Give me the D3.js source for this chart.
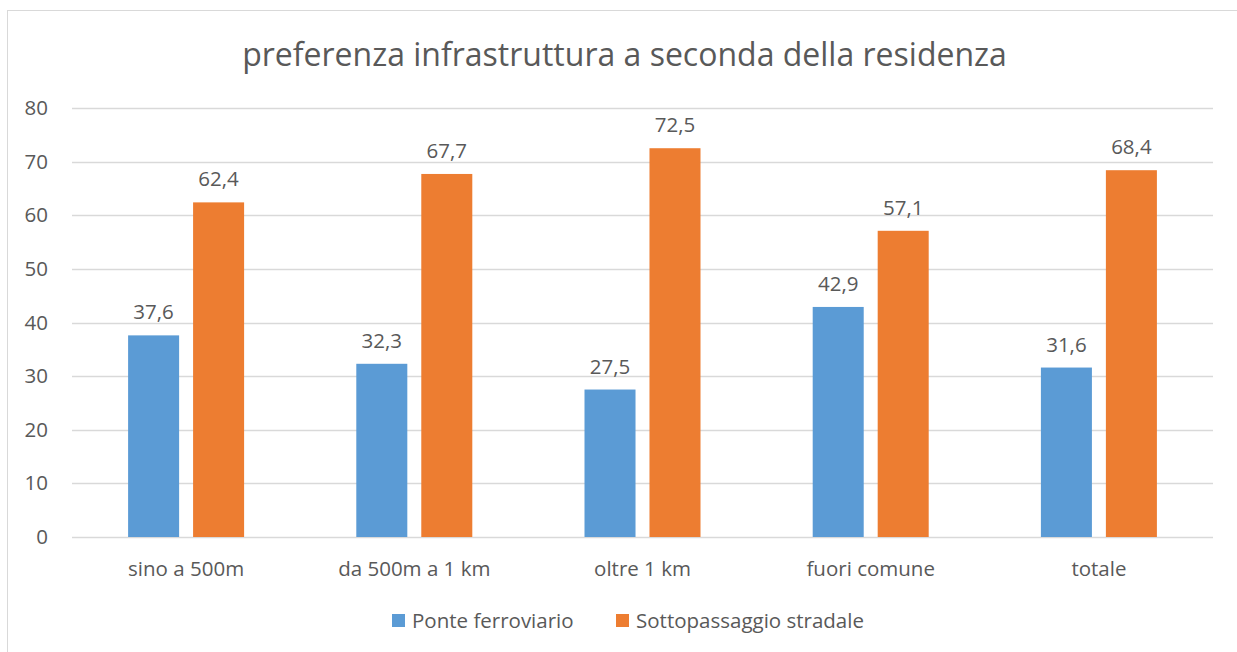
<!DOCTYPE html>
<html>
<head>
<meta charset="utf-8">
<script src="https://cdn.jsdelivr.net/npm/d3@7"></script>
<style>
  body { margin: 0; background: #fff; }
  text { font-family: "Open Sans", sans-serif; fill: #595959; }
</style>
</head>
<body>
<div id="chart"></div>
<script>
var categories = ["sino a 500m", "da 500m a 1 km", "oltre 1 km", "fuori comune", "totale"];
var series_names = ["Ponte ferroviario", "Sottopassaggio stradale"];
var ponte_values = [37.6, 32.3, 27.5, 42.9, 31.6];
var sottopassaggio_values = [62.4, 67.7, 72.5, 57.1, 68.4];
var y_ticks = [0, 10, 20, 30, 40, 50, 60, 70, 80];
var colors = ["#5B9BD5", "#ED7D31"];

var create_chart = function() {
  var width = 1237;
  var height = 652;
  var plot = { left: 72, right: 1213, top: 108, bottom: 537 };
  var font = "'Open Sans', sans-serif";
  var label_size = "20.5px";

  var svg = d3.select("#chart").append("svg")
      .attr("width", width)
      .attr("height", height);

  // chart frame
  svg.append("rect")
      .attr("x", 7.5)
      .attr("y", 10.5)
      .attr("width", 1260)
      .attr("height", 700)
      .attr("fill", "#fff")
      .attr("stroke", "#D9D9D9");

  svg.append("text")
      .attr("x", 624.5)
      .attr("y", 66)
      .attr("text-anchor", "middle")
      .style("font-size", "32px")
      .text("preferenza infrastruttura a seconda della residenza");

  var y_scale = d3.scaleLinear()
      .domain([0, 80])
      .range([plot.bottom, plot.top]);

  var x0 = d3.scaleBand()
      .domain(categories)
      .range([plot.left, plot.right]);

  var group_w = x0.bandwidth();
  var x1 = d3.scaleBand()
      .domain(series_names)
      .range([group_w / 2 - 58, group_w / 2 + 58])
      .paddingInner(0.215);

  // gridlines
  svg.append("g").selectAll("line")
      .data(y_ticks)
      .join("line")
      .attr("x1", plot.left)
      .attr("x2", plot.right)
      .attr("y1", function(d) { return Math.round(y_scale(d)) + 0.5; })
      .attr("y2", function(d) { return Math.round(y_scale(d)) + 0.5; })
      .attr("stroke", "#D9D9D9")
      .attr("stroke-width", 1.5);

  // y axis labels
  var y_axis = d3.axisLeft(y_scale).tickValues(y_ticks).tickSize(0).tickPadding(0);
  var y_g = svg.append("g")
      .attr("transform", "translate(48,0)")
      .call(y_axis);
  y_g.select(".domain").remove();
  y_g.selectAll("text")
      .style("font-size", label_size)
      .style("font-family", font)
      .attr("fill", "#595959");

  // x axis labels
  var x_axis = d3.axisBottom(x0).tickSize(0).tickPadding(0);
  var x_g = svg.append("g")
      .attr("transform", "translate(0," + (plot.bottom + 24) + ")")
      .call(x_axis);
  x_g.select(".domain").remove();
  x_g.selectAll("text")
      .style("font-size", label_size)
      .style("font-family", font)
      .attr("fill", "#595959");

  var table = categories.map(function(c, i) {
    return { category: c, values: [ponte_values[i], sottopassaggio_values[i]] };
  });

  var groups = svg.append("g").selectAll("g")
      .data(table)
      .join("g")
      .attr("transform", function(d) { return "translate(" + x0(d.category) + ",0)"; });

  groups.selectAll("rect")
      .data(function(d) {
        return d.values.map(function(v, j) { return { name: series_names[j], value: v, idx: j }; });
      })
      .join("rect")
      .attr("x", function(d) { return x1(d.name); })
      .attr("y", function(d) { return y_scale(d.value); })
      .attr("width", x1.bandwidth())
      .attr("height", function(d) { return y_scale(0) - y_scale(d.value); })
      .attr("fill", function(d) { return colors[d.idx]; });

  groups.selectAll("text.label")
      .data(function(d) {
        return d.values.map(function(v, j) { return { name: series_names[j], value: v }; });
      })
      .join("text")
      .attr("class", "label")
      .attr("x", function(d) { return x1(d.name) + x1.bandwidth() / 2; })
      .attr("y", function(d) { return y_scale(d.value) - 16; })
      .attr("text-anchor", "middle")
      .style("font-size", label_size)
      .text(function(d) { return d.value.toFixed(1).replace(".", ","); });

  // legend
  var legend_x = [392, 616];
  var legend = svg.append("g").selectAll("g")
      .data(series_names)
      .join("g")
      .attr("transform", function(d, i) { return "translate(" + legend_x[i] + ",614)"; });

  legend.append("rect")
      .attr("width", 13)
      .attr("height", 13)
      .attr("fill", function(d, i) { return colors[i]; });

  legend.append("text")
      .attr("x", 20)
      .attr("y", 14)
      .style("font-size", label_size)
      .text(function(d) { return d; });
}

create_chart();
</script>
</body>
</html>
